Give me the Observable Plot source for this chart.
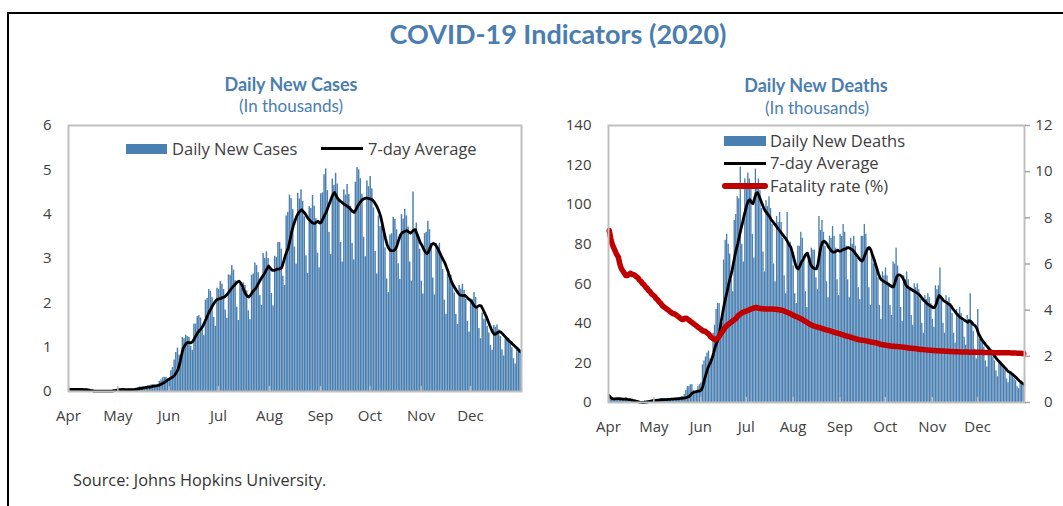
<!DOCTYPE html>
<html><head><meta charset="utf-8">
<script src="https://cdn.jsdelivr.net/npm/d3@7"></script>
<script src="https://cdn.jsdelivr.net/npm/@observablehq/plot@0.6"></script>
<style>
body{margin:0;background:#fff;}
#page{position:relative;width:1063px;height:506px;overflow:hidden;font-family:"Open Sans",sans-serif;color:#404040;background:#fff;}
.abs{position:absolute;white-space:nowrap;}
.ttl{font-family:Lato,sans-serif;color:#4a7db0;transform:translateX(-50%);}
.leg{font-size:16.5px;line-height:20px;color:#404040;}
</style></head><body><div id="page">
<div class="abs" style="left:8px;top:12px;width:1055px;height:2px;background:#000"></div>
<div class="abs" style="left:7px;top:12px;width:2px;height:494px;background:#000"></div>
<div class="abs ttl" id="title" style="left:558px;top:17px;font-size:27px;line-height:34px;font-weight:700"></div>
<div class="abs ttl" id="sub1" style="left:291px;top:73px;font-size:18px;line-height:22px;font-weight:700"></div>
<div class="abs ttl" id="unit1" style="left:291px;top:95px;font-size:17px;line-height:22px"></div>
<div class="abs ttl" id="sub2" style="left:816px;top:74px;font-size:18px;line-height:22px;font-weight:700"></div>
<div class="abs ttl" id="unit2" style="left:817px;top:97px;font-size:17px;line-height:22px"></div>
<div class="abs" id="chart1" style="left:0;top:115px;"></div>
<div class="abs" id="chart2" style="left:540px;top:115px;"></div>
<div class="abs" style="left:126px;top:144px;width:41px;height:10px;background:#4a7fb1"></div>
<div class="abs leg" id="lg1" style="left:172px;top:139px"></div>
<div class="abs" style="left:321px;top:147px;width:42px;height:3px;background:#000"></div>
<div class="abs leg" id="lg2" style="left:368px;top:139px"></div>
<div class="abs" style="left:724px;top:136px;width:42px;height:10px;background:#4a7fb1"></div>
<div class="abs leg" id="lg3" style="left:770px;top:131px"></div>
<div class="abs" style="left:724px;top:162px;width:42px;height:3px;background:#000"></div>
<div class="abs leg" id="lg4" style="left:770px;top:153px"></div>
<div class="abs" style="left:722px;top:183px;width:46px;height:6px;border-radius:3px;background:#c00000"></div>
<div class="abs leg" id="lg5" style="left:770px;top:176px"></div>
<div class="abs" id="source" style="left:73px;top:469px;font-size:16.3px;line-height:22px;color:#333"></div>
</div>
<script>
// ---- texts ----
const titleText = "COVID-19 Indicators (2020)";
const subTitles = ["Daily New Cases", "Daily New Deaths"];
const unitText = "(In thousands)";
const legendLabels = ["Daily New Cases", "7-day Average", "Daily New Deaths", "7-day Average", "Fatality rate (%)"];
const sourceText = "Source: Johns Hopkins University.";
const monthLabels = ["Apr","May","Jun","Jul","Aug","Sep","Oct","Nov","Dec"];
const casesTicks = [0,1,2,3,4,5,6];
const deathsTicks = [0,20,40,60,80,100,120,140];
const rateTicks = [0,2,4,6,8,10,12];

// ---- data: one value per day, 1 Apr 2020 .. 31 Dec 2020 ----
const casesDaily = [
0.06,0.05,0.06,0.05,0.04,0.03,0.06,0.05,0.06,0.05,0.04,0.03,0.02,0.03,0.02,0.02,0.01,0.01,0.01,0.01,0.01,0.01,0.01,0.01,0.01,0.01,0.01,0.02,0.02,0.03,
0.06,0.04,0.03,0.03,0.04,0.04,0.05,0.06,0.05,0.05,0.05,0.08,0.09,0.10,0.10,0.10,0.08,0.08,0.13,0.13,0.15,0.15,0.15,0.14,0.13,0.23,0.26,0.31,0.32,0.32,0.26,
0.26,0.47,0.54,0.71,0.88,0.98,0.82,0.76,1.22,1.19,1.27,1.24,1.22,1.02,0.93,1.52,1.52,1.69,1.71,1.66,1.38,1.26,2.06,2.10,2.30,2.26,2.12,1.67,1.47,2.33,
2.30,2.48,2.42,2.30,1.84,1.65,2.63,2.62,2.84,2.74,2.50,1.90,1.60,2.42,2.32,2.45,2.39,2.27,1.82,1.62,2.62,2.65,2.90,2.84,2.68,2.16,1.94,3.11,3.00,3.15,3.00,
2.79,2.21,1.93,3.05,3.02,3.36,3.36,3.21,2.60,2.39,3.96,4.04,4.43,4.35,4.10,3.26,2.87,4.47,4.34,4.55,4.29,3.94,3.06,2.66,4.17,4.13,4.42,4.18,3.90,3.12,2.79,
4.46,4.48,4.89,5.02,4.53,3.59,3.09,4.79,4.65,4.92,4.68,4.30,3.36,2.92,4.55,4.43,4.67,4.44,4.18,3.34,2.97,4.72,5.05,5.00,4.80,4.45,3.48,3.04,4.75,4.62,
4.85,4.57,4.14,3.16,2.65,3.96,3.72,3.80,3.54,3.24,2.54,2.23,3.53,3.56,3.93,3.88,3.65,2.88,2.53,3.99,3.89,4.11,3.96,3.71,2.92,2.49,4.50,3.63,3.80,3.54,3.21,
2.49,2.20,3.56,3.59,3.84,3.65,3.34,2.56,2.18,3.34,3.21,3.34,3.08,2.75,2.06,1.74,2.64,2.53,2.62,2.44,2.22,1.74,1.51,2.39,2.31,2.42,2.28,2.08,1.58,1.34,
2.09,2.07,2.23,2.12,1.90,1.42,1.19,1.77,1.63,1.63,1.47,1.32,1.04,0.93,1.49,1.45,1.50,1.39,1.24,0.94,0.80,1.22,1.16,1.20,1.10,0.99,0.74,0.62,0.95,0.90,0.92
];
const casesAvg = [
0.05,0.05,0.05,0.05,0.05,0.05,0.05,0.05,0.05,0.04,0.04,0.04,0.03,0.02,0.02,0.01,0.01,0.01,0.01,0.01,0.01,0.01,0.01,0.01,0.01,0.01,0.01,0.02,0.02,0.03,
0.04,0.04,0.05,0.05,0.04,0.04,0.04,0.04,0.04,0.04,0.05,0.05,0.06,0.07,0.07,0.08,0.09,0.09,0.10,0.10,0.11,0.12,0.12,0.13,0.14,0.15,0.17,0.19,0.21,0.24,0.27,
0.29,0.31,0.33,0.37,0.43,0.50,0.62,0.80,0.96,1.03,1.09,1.11,1.10,1.10,1.13,1.20,1.27,1.33,1.38,1.41,1.47,1.55,1.63,1.72,1.80,1.87,1.94,2.00,2.05,2.08,
2.09,2.10,2.12,2.13,2.16,2.20,2.25,2.30,2.35,2.39,2.43,2.47,2.49,2.45,2.38,2.28,2.20,2.15,2.13,2.17,2.23,2.28,2.32,2.38,2.45,2.52,2.58,2.63,2.70,2.77,2.83,
2.78,2.74,2.73,2.74,2.76,2.76,2.77,2.80,2.92,3.05,3.15,3.25,3.42,3.60,3.74,3.85,3.95,4.02,4.07,4.10,4.06,4.02,3.96,3.90,3.86,3.82,3.80,3.79,3.82,3.84,3.80,
3.82,3.90,3.98,4.05,4.15,4.25,4.35,4.44,4.49,4.42,4.35,4.31,4.28,4.25,4.22,4.20,4.17,4.14,4.10,4.06,4.04,4.10,4.18,4.24,4.29,4.33,4.35,4.36,4.36,4.35,
4.34,4.32,4.28,4.22,4.15,4.06,3.95,3.78,3.60,3.44,3.30,3.22,3.18,3.17,3.18,3.21,3.30,3.42,3.53,3.58,3.60,3.62,3.63,3.60,3.57,3.60,3.64,3.65,3.56,3.46,3.36,
3.30,3.22,3.15,3.11,3.14,3.24,3.32,3.34,3.32,3.27,3.20,3.12,3.04,2.97,2.90,2.80,2.70,2.58,2.48,2.40,2.34,2.28,2.22,2.18,2.17,2.16,2.17,2.14,2.10,2.07,
2.04,1.98,1.92,1.90,1.92,1.94,1.93,1.86,1.78,1.70,1.61,1.51,1.42,1.34,1.29,1.30,1.33,1.35,1.34,1.30,1.26,1.22,1.18,1.14,1.11,1.07,1.04,1.00,0.97,0.93,0.89
];
const deathsDaily = [
4,3,2,2,2,1,2,2,2,2,2,1,1,1,1,1,0,0,0,0,0,0,0,0,1,1,1,1,1,1,
1,1,1,1,2,2,2,2,2,1,1,2,2,2,2,2,2,2,3,3,4,6,8,8,9,9,6,5,5,8,9,
10,19,21,23,25,26,22,21,35,39,47,50,50,42,40,72,82,85,80,75,62,56,92,95,104,103,119,80,71,113,
109,116,113,108,85,73,118,109,113,107,98,76,66,102,99,104,98,90,70,61,94,91,96,91,83,64,55,96,79,81,75,
69,55,50,79,79,86,83,74,56,48,75,73,78,77,77,63,57,94,87,92,86,79,61,53,84,83,89,84,78,62,54,
85,84,90,86,79,62,53,83,80,84,79,73,58,52,84,84,90,85,76,58,49,74,70,72,68,63,49,42,66,64,
68,64,60,49,44,71,70,78,69,63,48,41,64,62,66,62,57,44,39,60,58,60,57,52,40,35,54,52,55,53,50,
42,38,59,57,59,68,52,40,35,54,51,53,50,45,35,30,47,45,48,45,41,33,29,44,42,55,41,36,27,22,
47,32,33,31,28,21,18,27,25,26,23,21,16,13,20,19,19,17,16,12,10,15,14,14,12,11,8,7,10,9,9
];
const deathsAvg = [
3.4,2.5,2.0,1.8,1.8,2.0,2.0,1.9,1.8,1.7,1.7,1.8,1.6,1.5,1.4,1.2,1.0,0.8,0.6,0.4,0.2,0.1,0.0,0.0,0.1,0.2,0.4,0.6,0.8,1.0,
1.0,1.1,1.2,1.2,1.3,1.4,1.4,1.5,1.5,1.6,1.6,1.7,1.7,1.8,1.8,1.9,2.0,2.1,2.1,2.2,2.3,2.5,2.8,3.2,4.0,4.8,5.2,5.4,5.6,5.8,5.9,
6.5,8.5,11.8,14.5,17,19,20.2,22.5,25,28,30,32,36,41,45.5,49.5,53,56.5,60,63,66,70,74,77.5,80.5,84,87.5,90.5,94,97,
100,102,102.5,101,100.5,103,105.5,106,104.5,102.5,100.5,98.5,97,96,95,94,92.5,91.5,90.5,89.5,88.5,87.5,86.5,85.5,84.5,83.5,82.5,81,79.5,78.5,76,
73,70,68,67.5,69,71,72,73.5,75,75.5,73,70,68.5,68,67.5,67.5,70,75,79,81,81.5,81,80,78.5,77.5,76.5,76,76,76.5,77,76.5,
76.5,77,77.5,77.5,78,78.3,78,77.5,77,76,75,74,73,72,71.5,72.5,74.5,76.5,78,78.3,77,74.5,72.5,70,67.5,65,63,62,61.5,61,
60.5,60,59.5,59,58.5,58.5,61,63.5,64.5,64.5,64,63,61.5,59.5,58.5,58,57.5,57,56.5,56,55.5,55,54.5,53.5,52.5,51.5,51,50,49.5,49,48.5,
48,48,49.5,52,54,53.5,52.5,51.5,51,50.5,50,49.5,48.8,47.5,46.5,45.5,44.5,43.8,43,42.5,42,41.5,41,40.5,41.3,41,40,39.3,38.7,37.5,
35,33.5,32,31,30,29,28.2,27.3,26.3,25.3,24.3,23.2,22.2,21.3,20.5,19.6,18.8,18,17.2,16.3,15.6,15.2,14.6,14,13.3,12.6,11.8,11,10.4,9.8,9.3
];
const fatalityRate = [
7.45,7.1,6.85,6.7,6.55,6.4,6.3,6.0,5.8,5.7,5.6,5.5,5.5,5.55,5.6,5.55,5.55,5.5,5.45,5.4,5.3,5.25,5.15,5.1,5.0,4.95,4.85,4.8,4.7,4.65,
4.6,4.5,4.45,4.35,4.3,4.2,4.15,4.1,4.05,4.0,3.95,3.9,3.85,3.85,3.8,3.75,3.7,3.65,3.6,3.6,3.65,3.65,3.6,3.55,3.5,3.45,3.4,3.35,3.3,3.25,3.2,
3.15,3.1,3.1,3.05,3.0,2.95,2.85,2.8,2.75,2.72,2.75,2.8,2.9,3.0,3.1,3.2,3.28,3.35,3.4,3.45,3.5,3.55,3.6,3.65,3.75,3.8,3.85,3.9,3.92,3.95,
3.97,4.0,4.03,4.06,4.08,4.1,4.12,4.1,4.08,4.07,4.06,4.06,4.05,4.05,4.05,4.05,4.05,4.05,4.04,4.04,4.03,4.02,4.01,4.0,3.98,3.95,3.92,3.9,3.87,3.84,3.8,
3.77,3.74,3.71,3.68,3.65,3.62,3.58,3.54,3.5,3.46,3.42,3.38,3.35,3.32,3.3,3.28,3.26,3.24,3.22,3.2,3.18,3.16,3.14,3.12,3.1,3.08,3.06,3.04,3.02,3.0,2.98,
2.96,2.94,2.92,2.9,2.88,2.86,2.84,2.82,2.8,2.78,2.76,2.74,2.72,2.71,2.7,2.69,2.68,2.67,2.65,2.64,2.62,2.61,2.6,2.59,2.57,2.55,2.53,2.51,2.5,2.49,
2.48,2.47,2.46,2.45,2.44,2.44,2.43,2.43,2.42,2.42,2.41,2.4,2.39,2.38,2.37,2.36,2.35,2.35,2.34,2.34,2.33,2.32,2.31,2.3,2.3,2.29,2.28,2.27,2.27,2.26,2.26,
2.25,2.25,2.24,2.24,2.24,2.23,2.23,2.23,2.22,2.22,2.22,2.21,2.21,2.21,2.2,2.2,2.2,2.2,2.19,2.19,2.19,2.19,2.19,2.19,2.18,2.18,2.18,2.18,2.18,2.18,
2.18,2.18,2.18,2.17,2.17,2.17,2.17,2.17,2.17,2.17,2.16,2.16,2.16,2.16,2.16,2.16,2.15,2.15,2.15,2.15,2.15,2.15,2.14,2.14,2.14,2.14,2.13,2.13,2.13,2.12,2.12
];

// ---- build ----
const start = new Date(Date.UTC(2020, 3, 1));
const end = new Date(Date.UTC(2021, 0, 1));
const days = d3.utcDay.range(start, end);
const monthStarts = d3.utcMonth.range(start, end);
const monthFmt = d => monthLabels[monthStarts.findIndex(m => +m === +d)];

const casesRows = days.map((date, i) => ({date, daily: casesDaily[i], avg: casesAvg[i]}));
const deathsRows = days.map((date, i) => ({date, daily: deathsDaily[i], avg: deathsAvg[i], rate: fatalityRate[i]}));

const BLUE = "#4a7fb1", GRID = "#bfbfbf";
const style = {fontFamily: "'Open Sans', sans-serif", fontSize: "15px", color: "#404040", background: "transparent", overflow: "visible"};
const nextDay = d => d3.utcDay.offset(d.date, 1);
const midDay = d => d3.utcHour.offset(d.date, 12);

const chart1 = Plot.plot({
  width: 540, height: 330,
  marginLeft: 68, marginRight: 19, marginTop: 10, marginBottom: 54,
  style,
  x: {type: "utc", domain: [start, end]},
  y: {domain: [0, 6]},
  marks: [
    Plot.rectY(casesRows, {x1: "date", x2: nextDay, y: "daily", fill: BLUE, insetRight: 0.18}),
    Plot.lineY(casesRows, {x: midDay, y: "avg", stroke: "#000", strokeWidth: 2.8}),
    Plot.frame({stroke: GRID, strokeWidth: 2}),
    Plot.axisY({ticks: casesTicks, tickSize: 0, tickPadding: 17, tickFormat: d => String(d), label: null}),
    Plot.axisX({ticks: monthStarts, tickSize: 5, dy: -5, stroke: GRID, strokeWidth: 1.5, tickFormat: () => "", label: null}),
    Plot.axisX({ticks: monthStarts, tickSize: 0, tickPadding: 19, tickFormat: monthFmt, label: null})
  ]
});

const k = deathsTicks[deathsTicks.length - 1] / rateTicks[rateTicks.length - 1];
const chart2 = Plot.plot({
  width: 523, height: 330,
  marginLeft: 68, marginRight: 39, marginTop: 10, marginBottom: 43,
  style,
  x: {type: "utc", domain: [start, end]},
  y: {domain: [0, 140]},
  marks: [
    Plot.rectY(deathsRows, {x1: "date", x2: nextDay, y: "daily", fill: BLUE, insetRight: 0.18}),
    Plot.lineY(deathsRows, {x: midDay, y: "avg", stroke: "#000", strokeWidth: 2.8}),
    Plot.lineY(deathsRows, {x: midDay, y: d => d.rate * k, stroke: "#c00000", strokeWidth: 5.5, strokeLinecap: "round"}),
    Plot.frame({stroke: GRID, strokeWidth: 2}),
    Plot.axisY({ticks: deathsTicks, tickSize: 0, tickPadding: 17, tickFormat: d => String(d), label: null}),
    Plot.axisY({anchor: "right", ticks: rateTicks.map(v => v * k), tickFormat: v => String(Math.round(v / k)), tickSize: 5, tickPadding: 23, textAnchor: "end", stroke: "#a6a6a6", strokeWidth: 1.5, label: null}),
    Plot.axisX({ticks: monthStarts, tickSize: 5, dy: -5, stroke: GRID, strokeWidth: 1.5, tickFormat: () => "", label: null}),
    Plot.axisX({ticks: monthStarts, tickSize: 0, tickPadding: 19, tickFormat: monthFmt, label: null})
  ]
});

document.getElementById("chart1").appendChild(chart1);
document.getElementById("chart2").appendChild(chart2);
document.getElementById("title").textContent = titleText;
document.getElementById("sub1").textContent = subTitles[0];
document.getElementById("sub2").textContent = subTitles[1];
document.getElementById("unit1").textContent = unitText;
document.getElementById("unit2").textContent = unitText;
["lg1","lg2","lg3","lg4","lg5"].forEach((id, i) => document.getElementById(id).textContent = legendLabels[i]);
document.getElementById("source").textContent = sourceText;
</script></body></html>
